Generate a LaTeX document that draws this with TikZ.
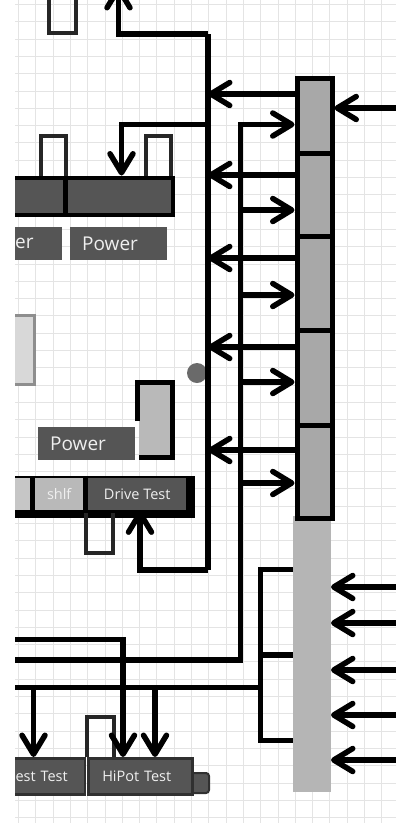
\documentclass[tikz,border=0pt]{standalone}
\usepackage{fontspec}
\setmainfont{Open Sans}
\usetikzlibrary{arrows.meta}
\definecolor{dgray}{HTML}{555555}
\definecolor{rgray}{HTML}{A8A8A8}
\definecolor{lcgray}{HTML}{B5B5B5}
\definecolor{lgray}{HTML}{C6C6C6}
\definecolor{mgray}{HTML}{B9B9B9}
\definecolor{pgray}{HTML}{D8D8D8}
\definecolor{pborder}{HTML}{8E8E8E}
\definecolor{dotgray}{HTML}{6A6A6A}
\definecolor{txtc}{HTML}{EFEFEF}
\definecolor{gridc}{HTML}{E4E4E4}
\definecolor{rowborder}{HTML}{303030}
\begin{document}
\begin{tikzpicture}[x=1pt,y=-1pt,
  conn/.style={line width=5.5pt, draw=black},
  arr/.style={conn, -{Straight Barb[length=19pt,width=23pt,round]}},
  openbox/.style={line width=4pt, draw=black!85},
  rbox/.style={draw=black, line width=5pt, fill=rgray, anchor=north west, minimum width=35pt, inner sep=0pt, outer sep=2.5pt},
  lab/.style={fill=dgray, text=txtc, font=\fontsize{19}{19}\selectfont, inner ysep=0pt, inner xsep=12pt, align=left, anchor=north west, minimum height=33pt, text width=73pt},
  cell/.style={anchor=north west, inner sep=0pt, minimum height=32pt, text=txtc, font=\fontsize{14.5}{14.5}\selectfont},
  btm/.style={draw=rowborder, line width=2.5pt, fill=dgray, text=txtc, font=\fontsize{14.5}{14.5}\selectfont, inner ysep=0pt, minimum height=36pt}
  ]
\useasboundingbox (0,0) rectangle (396,823);
\fill[white] (0,0) rectangle (396,823);
\begin{scope}
\clip (15,0) rectangle (396,823);
% grid
\foreach \i in {0,...,47} \draw[gridc, line width=0.6pt] (0,4.3+17.3*\i) -- (396,4.3+17.3*\i);
\foreach \i in {0,...,22} \draw[gridc, line width=0.6pt] (1+17.3*\i,0) -- (1+17.3*\i,823);

% top-left open box
\draw[openbox] (49,-5) -- (49,32.5) -- (75.5,32.5) -- (75.5,-5);

% right column
\node[fill=lcgray, anchor=north west, inner sep=0pt, outer sep=0pt, minimum width=38pt, minimum height=276pt] (lc) at (293,516) {};
\node[rbox, minimum height=75.5pt] (b1) at (294.5,75.5) {};
\node[rbox, minimum height=83pt] (b2) at (294.5,151) {};
\node[rbox, minimum height=94pt] (b3) at (294.5,234) {};
\node[rbox, minimum height=95pt] (b4) at (294.5,328) {};
\node[rbox, minimum height=93pt] (b5) at (294.5,423) {};

% top row
\node[draw=black, line width=4pt, fill=dgray, anchor=north west, inner sep=0pt, minimum width=175.5pt, minimum height=37pt] (toprow) at (-5,175.5) {};
\draw[line width=4.5pt] (65.5,175.5) -- (65.5,212.5);
\draw[openbox] (40.5,175.5) -- (40.5,135.5) -- (65.5,135.5) -- (65.5,175.5);
\draw[openbox] (145.5,175.5) -- (145.5,135.5) -- (170.5,135.5) -- (170.5,175.5);

% label row
\node[lab, text width=47pt, inner xsep=0pt] (erbox) at (15,227) {er};
\node[lab] (powtop) at (70,227) {Power};

% middle left
\node[draw=pborder, fill=pgray, line width=3pt, anchor=north west, inner sep=0pt, minimum width=37.5pt, minimum height=69pt] (pale) at (-5,313.5) {};
\node[circle, fill=dotgray, inner sep=0pt, minimum size=20pt] (dot) at (197,373) {};
\node[lab] (powmid) at (38,427) {Power};
\node[fill=mgray, anchor=north west, inner sep=0pt, minimum width=33pt, minimum height=73pt] (gbox) at (139,384) {};
\draw[line width=5pt] (137.5,421) -- (137.5,382.5) -- (172.5,382.5) -- (172.5,457.5) -- (139,457.5);

% drive row
\node[draw=black, fill=black, line width=5pt, anchor=north west, inner sep=0pt, minimum width=194.5pt, minimum height=37pt] (driverow) at (-5,475.5) {};
\node[cell, fill=lgray, minimum width=35pt] (c0) at (-5,478) {};
\node[cell, fill=mgray, minimum width=48pt] (shlf) at (35,478) {shlf};
\node[cell, fill=dgray, minimum width=98pt] (drive) at (88,478) {Drive Test};
\draw[openbox] (85.5,513) -- (85.5,552.5) -- (112.5,552.5) -- (112.5,513);

% bottom row
\draw[draw=rowborder, fill=dgray, line width=2pt, rounded corners=3pt] (185,773) -- (209,773) -- (209,793) -- (185,793) -- cycle;
\node[btm, anchor=north east, text width=73pt, align=right, inner xsep=17pt] (estt) at (86,757) {est Test};
\node[btm, anchor=north west, text width=76pt, align=left, inner xsep=14pt] (hipot) at (87,757) {HiPot Test};
\draw[openbox] (86.5,757) -- (86.5,716.5) -- (113.5,716.5) -- (113.5,757);

% bus A
\coordinate (aTop) at (208,34);
\coordinate (aBot) at (208,570);
\coordinate (offTop) at (118.5,34);
\draw[conn] (aTop) -- (aBot);
\draw[arr] (aTop) -- (offTop) -- (118.5,-14);
\coordinate (aDown) at (208,124.5);
\coordinate (dn) at (121.5,124.5);
\draw[arr] (aDown) -- (dn) -- (dn |- toprow.north);
\coordinate (up) at (140,570);
\draw[arr] (aBot) -- (up) -- (up |- drive.south);
\foreach \b/\yy in {b1/94, b2/175, b3/258, b4/347, b5/450} {
  \coordinate (la) at (208,\yy);
  \draw[arr] (\b.west |- la) -- (la);
}

% bus B
\coordinate (bTop) at (240.5,124.5);
\coordinate (bBot) at (240.5,660);
\coordinate (bLeft) at (-5,660);
\draw[arr] (bLeft) -- (bBot) -- (bTop) -- (b1.west |- bTop);
\foreach \b/\yy in {b2/210, b3/295, b4/382, b5/483} {
  \coordinate (rb) at (240.5,\yy);
  \draw[arr] (rb) -- (\b.west |- rb);
}

% inputs from the right
\coordinate (in0) at (400,108);
\draw[arr] (in0) -- (b1.east |- in0);
\foreach \yy in {587,623,670,715,760} {
  \coordinate (inl) at (400,\yy);
  \draw[arr] (inl) -- (lc.east |- inl);
}

% bracket
\coordinate (k1) at (260.5,569.5);
\coordinate (k2) at (260.5,655);
\coordinate (k3) at (260.5,740.5);
\draw[conn] (lc.west |- k1) -- (k1) -- (k3) -- (lc.west |- k3);
\draw[conn] (k2) -- (lc.west |- k2);
\coordinate (cLeft) at (-5,687.5);
\coordinate (cJoin) at (260.5,687.5);
\draw[conn] (cLeft) -- (cJoin);

% drops to bottom row
\coordinate (d1) at (33.5,687.5);
\draw[arr] (d1) -- (d1 |- estt.north);
\coordinate (d3) at (155,687.5);
\draw[arr] (d3) -- (d3 |- hipot.north);
\coordinate (tl) at (-5,639.5);
\coordinate (tc) at (123,639.5);
\draw[arr] (tl) -- (tc) -- (tc |- hipot.north);
\end{scope}
\end{tikzpicture}
\end{document}
